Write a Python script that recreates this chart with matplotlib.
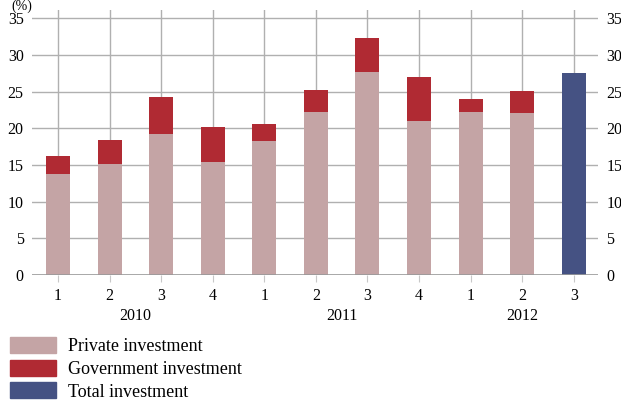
import matplotlib.pyplot as plt
import matplotlib.patches as mpatches
import numpy as np

plt.rcParams['font.family'] = ['Liberation Serif', 'DejaVu Serif']

quarters = ['1', '2', '3', '4', '1', '2', '3', '4', '1', '2', '3']
years = ['2010', '2011', '2012']
year_pos = [1.5, 5.5, 9]
private = [13.8, 15.1, 19.2, 15.4, 18.3, 22.2, 27.7, 21.0, 22.2, 22.1, 0]
government = [2.4, 3.3, 5.05, 4.8, 2.3, 3.0, 4.6, 6.0, 1.8, 3.0, 0]
total = [0, 0, 0, 0, 0, 0, 0, 0, 0, 0, 27.5]

c_priv = '#c4a4a5'
c_gov = '#b02a33'
c_tot = '#455283'


def main():
    fig = plt.figure(figsize=(6.21, 4.01), dpi=100)
    ax = fig.add_axes([0.0515, 0.314, 0.9115, 0.661])
    x = np.arange(len(quarters))
    w = 0.465

    # grid first so bars sit on top
    for v in range(5, 40, 5):
        ax.axhline(v, color='#b0b0b0', lw=1.0, zorder=0)
    for xi in x:
        ax.axvline(xi, color='#b0b0b0', lw=1.0, zorder=0)
    ax.axhline(0, color='#999999', lw=1.2, zorder=3)

    ax.bar(x, private, w, color=c_priv, zorder=2)
    ax.bar(x, government, w, bottom=private, color=c_gov, zorder=2)
    ax.bar(x, total, w, color=c_tot, zorder=2)

    ax.set_xlim(-0.505, 10.47)
    ax.set_ylim(0, 36.1)
    ax.set_yticks(range(0, 40, 5))
    ax.tick_params(axis='y', length=0, labelsize=11.5, pad=6, labelright=True)
    ax.set_xticks(x)
    ax.set_xticklabels(quarters)
    ax.tick_params(axis='x', length=5, color='#c8c8c8', labelsize=11.5, pad=4)
    for s in ax.spines.values():
        s.set_visible(False)

    for yr, p in zip(years, year_pos):
        ax.text(p, -5.6, yr, ha='center', va='center', fontsize=11.5)

    # unit label, top left
    fig.text(0.018, 1.0, '(%)', ha='left', va='top', fontsize=10)

    handles = [mpatches.Patch(color=c_priv, label='Private investment'),
               mpatches.Patch(color=c_gov, label='Government investment'),
               mpatches.Patch(color=c_tot, label='Total investment')]
    fig.legend(handles=handles, loc='lower left', bbox_to_anchor=(0.011, -0.008),
               frameon=False, fontsize=13, handlelength=2.55, handleheight=1.0,
               labelspacing=0.25, handletextpad=0.65, borderaxespad=0.0,
               borderpad=0.2)

    plt.savefig('out.png', dpi=100)


if __name__ == '__main__':
    main()
